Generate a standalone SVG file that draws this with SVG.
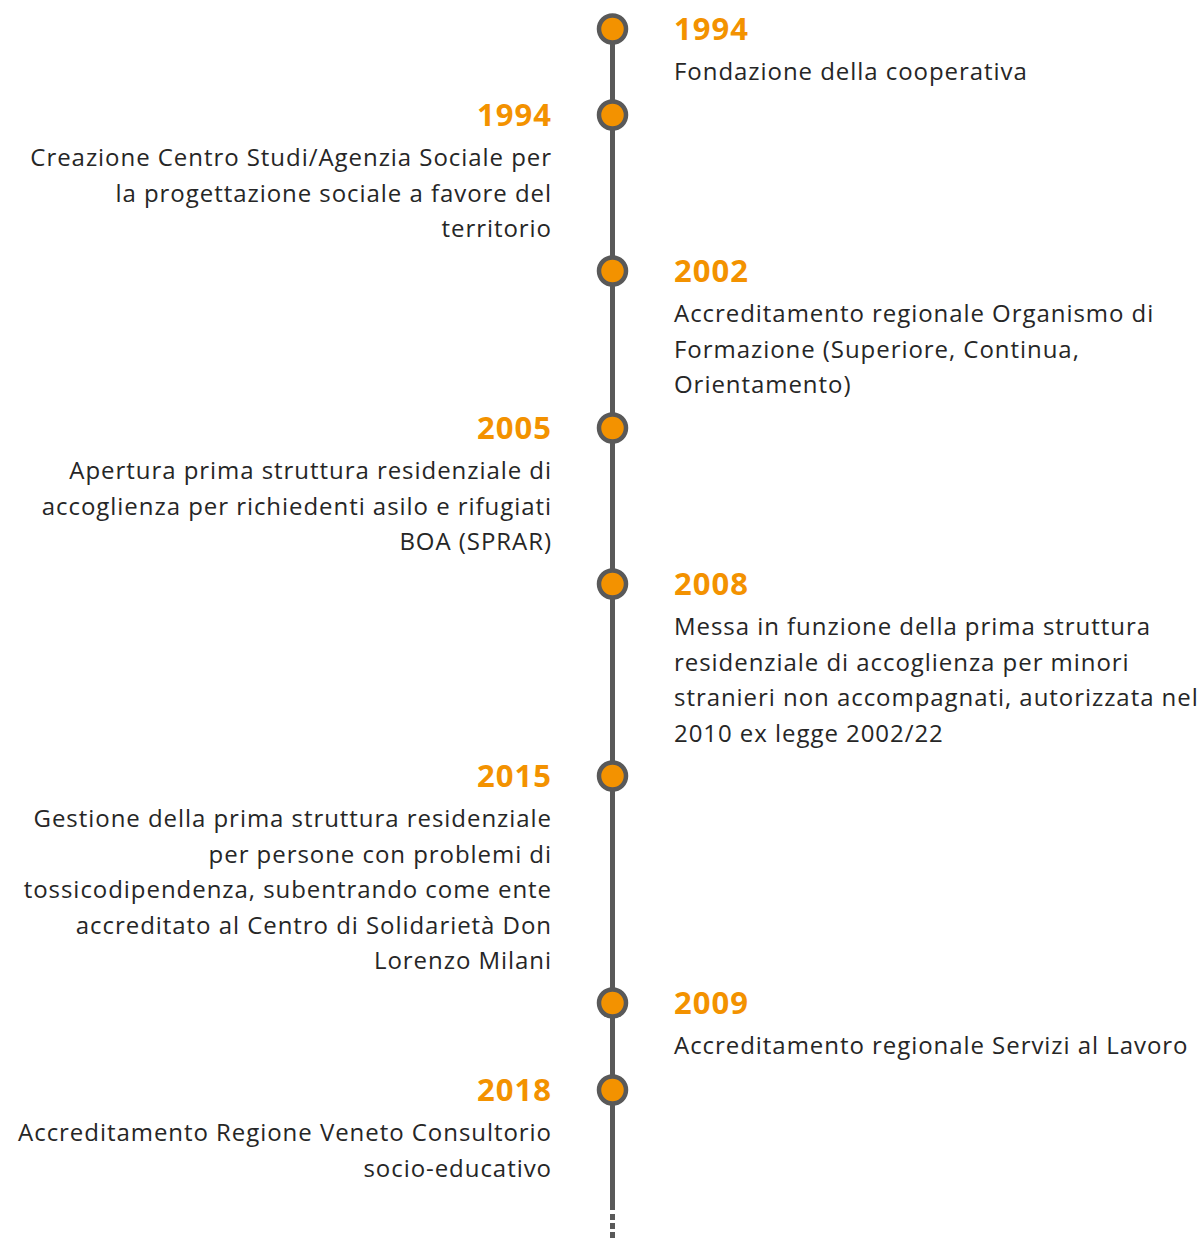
<svg xmlns="http://www.w3.org/2000/svg" width="1197" height="1238" viewBox="0 0 1197 1238">
<style>
.yr{font-family:"Open Sans","Noto Sans",sans-serif;font-weight:bold;font-size:31px;letter-spacing:1px;fill:#F39200}
.tx{font-family:"Open Sans","Noto Sans",sans-serif;font-size:24px;letter-spacing:0.95px;fill:#262626}
.l{text-anchor:end}
.dot{fill:#F39200;stroke:#595959;stroke-width:4.5}
</style>
<rect width="1197" height="1238" fill="#ffffff"/>
<g id="connectors">
<line x1="612.5" y1="29" x2="612.5" y2="1210" stroke="#595959" stroke-width="5"/>
<line x1="612.5" y1="1214" x2="612.5" y2="1238" stroke="#595959" stroke-width="5" stroke-dasharray="6 3"/>
</g>
<g id="n1"><circle class="dot" cx="612.5" cy="29" r="13.5"/>
<text class="yr" x="674" y="40">1994</text>
<text class="tx" x="674" y="80">Fondazione della cooperativa</text></g>
<g id="n2"><circle class="dot" cx="612.5" cy="115" r="13.5"/>
<text class="yr l" x="552" y="126">1994</text>
<text class="tx l" x="552" y="166">Creazione Centro Studi/Agenzia Sociale per</text>
<text class="tx l" x="552" y="201.5">la progettazione sociale a favore del</text>
<text class="tx l" x="552" y="237">territorio</text></g>
<g id="n3"><circle class="dot" cx="612.5" cy="271" r="13.5"/>
<text class="yr" x="674" y="282">2002</text>
<text class="tx" x="674" y="322">Accreditamento regionale Organismo di</text>
<text class="tx" x="674" y="357.5">Formazione (Superiore, Continua,</text>
<text class="tx" x="674" y="393">Orientamento)</text></g>
<g id="n4"><circle class="dot" cx="612.5" cy="428" r="13.5"/>
<text class="yr l" x="552" y="439">2005</text>
<text class="tx l" x="552" y="479">Apertura prima struttura residenziale di</text>
<text class="tx l" x="552" y="514.5">accoglienza per richiedenti asilo e rifugiati</text>
<text class="tx l" x="552" y="550">BOA (SPRAR)</text></g>
<g id="n5"><circle class="dot" cx="612.5" cy="584" r="13.5"/>
<text class="yr" x="674" y="595">2008</text>
<text class="tx" x="674" y="635">Messa in funzione della prima struttura</text>
<text class="tx" x="674" y="670.5">residenziale di accoglienza per minori</text>
<text class="tx" x="674" y="706">stranieri non accompagnati, autorizzata nel</text>
<text class="tx" x="674" y="741.5">2010 ex legge 2002/22</text></g>
<g id="n6"><circle class="dot" cx="612.5" cy="776" r="13.5"/>
<text class="yr l" x="552" y="787">2015</text>
<text class="tx l" x="552" y="827">Gestione della prima struttura residenziale</text>
<text class="tx l" x="552" y="862.5">per persone con problemi di</text>
<text class="tx l" x="552" y="898">tossicodipendenza, subentrando come ente</text>
<text class="tx l" x="552" y="933.5">accreditato al Centro di Solidarietà Don</text>
<text class="tx l" x="552" y="969">Lorenzo Milani</text></g>
<g id="n7"><circle class="dot" cx="612.5" cy="1003" r="13.5"/>
<text class="yr" x="674" y="1014">2009</text>
<text class="tx" x="674" y="1054">Accreditamento regionale Servizi al Lavoro</text></g>
<g id="n8"><circle class="dot" cx="612.5" cy="1090" r="13.5"/>
<text class="yr l" x="552" y="1101">2018</text>
<text class="tx l" x="552" y="1141">Accreditamento Regione Veneto Consultorio</text>
<text class="tx l" x="552" y="1176.5">socio-educativo</text></g>
</svg>
